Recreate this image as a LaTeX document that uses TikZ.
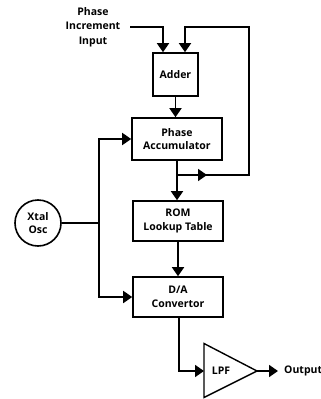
\documentclass[tikz,border=0pt]{standalone}
\usepackage{fontspec}
\setmainfont{Open Sans}
\usetikzlibrary{arrows.meta,decorations.markings,calc}
\begin{document}
\begin{tikzpicture}[x=1pt,y=1pt,
  wire/.style={line width=1.7pt},
  tip/.style={-{Triangle[length=9pt,width=12pt]}},
  midtip/.style={postaction={decorate},decoration={markings,
      mark=at position #1 with {\arrow{Triangle[length=9pt,width=12pt]}}}},
  txt/.style={inner sep=0pt,align=center,font=\bfseries\fontsize{10.5}{13.5}\selectfont},
  block/.style={txt,draw,line width=1.6pt,minimum width=90pt,minimum height=41pt},
]
\useasboundingbox (0,0) rectangle (321,-399);

% blocks
\node[txt,font=\bfseries\fontsize{10.5}{14.5}\selectfont] (inc) at (93,-27) {Phase\\Increment\\Input};
\node[block,minimum width=45pt,minimum height=43pt] (adder) at (175.5,-74.5) {Adder};
\node[block,minimum height=42pt] (acc) at (177,-139) {Phase\\Accumulator};
\node[block,minimum height=40pt] (rom) at (178,-221) {ROM\\Lookup Table};
\node[block,minimum height=40pt] (da) at (178,-297) {D/A\\Convertor};
\node[txt,draw,circle,line width=1.6pt,minimum size=46pt] (xtal) at (38,-223) {Xtal\\Osc};

% low-pass filter
\coordinate (lpfin) at (204,-371);
\coordinate (lpfout) at (257,-371);
\draw[line width=1.4pt,line join=miter] (204,-343.5) -- (lpfout) -- (204,-397.5) -- cycle;
\node[txt] (lpf) at (221,-371) {LPF};
\node[txt,anchor=west] (out) at (284,-371) {Output};

% phase increment into adder
\draw[wire,tip] ($(inc.east)+(10,0)$) -| ([xshift=-12.5pt]adder.north);
% adder to accumulator
\draw[wire,tip] (adder.south) -- (adder.south |- acc.north);
% accumulator to ROM, with feedback branch
\coordinate (j) at (acc.south |- 0,-175);
\draw[wire,tip] (acc.south) -- (acc.south |- rom.north);
\draw[wire,tip,midtip=30pt] (j) -| (249,-27) -| ([xshift=9.5pt]adder.north);
% ROM to D/A
\draw[wire,tip] (rom.south) -- (da.north);
% clock distribution
\coordinate (bus) at (99,-223);
\draw[wire] (xtal) -- (bus);
\draw[wire,tip] (bus) |- (acc.west);
\draw[wire,tip] (bus) |- (da.west);
% D/A to filter and output
\draw[wire,tip] ([xshift=1pt]da.south) |- (lpfin);
\draw[wire,tip] (lpfout) -- ([xshift=-6pt]out.west);
\end{tikzpicture}
\end{document}
